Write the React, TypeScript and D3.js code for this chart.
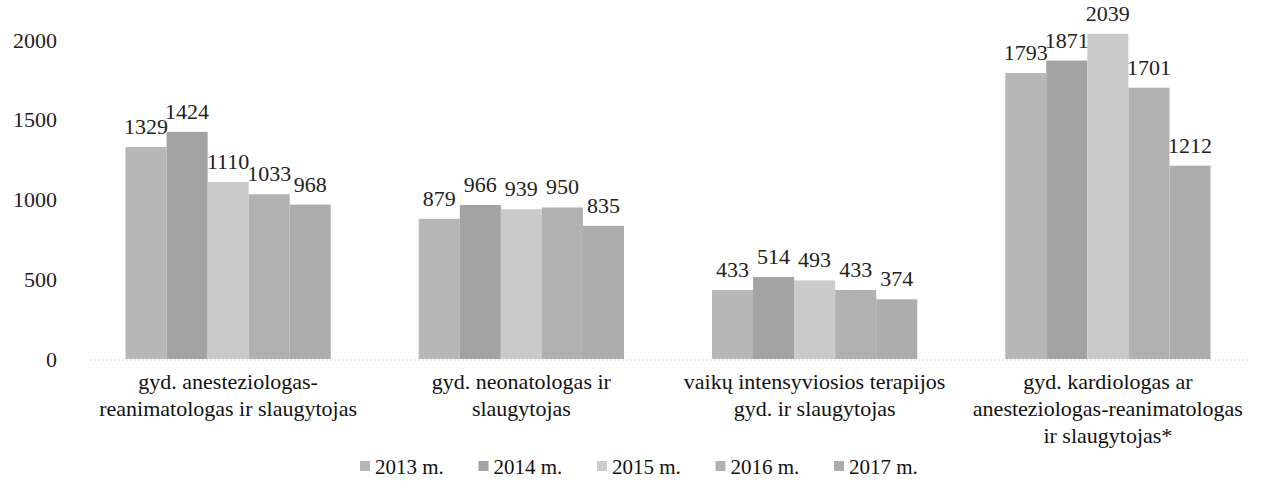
import React from "react";
import * as d3 from "d3";

const categories: string[][] = [
  ["gyd. anesteziologas-", "reanimatologas ir slaugytojas"],
  ["gyd. neonatologas ir", "slaugytojas"],
  ["vaikų intensyviosios terapijos", "gyd. ir slaugytojas"],
  ["gyd. kardiologas ar", "anesteziologas-reanimatologas", "ir slaugytojas*"],
];
const seriesNames = ["2013 m.", "2014 m.", "2015 m.", "2016 m.", "2017 m."];
const v2013 = [1329, 879, 433, 1793];
const v2014 = [1424, 966, 514, 1871];
const v2015 = [1110, 939, 493, 2039];
const v2016 = [1033, 950, 433, 1701];
const v2017 = [968, 835, 374, 1212];
const series = [v2013, v2014, v2015, v2016, v2017];
const yTicks = [0, 500, 1000, 1500, 2000];
const colors = ["#b7b7b7", "#a3a3a3", "#cbcbcb", "#b1b1b1", "#acacac"];

const W = 1261;
const H = 490;
const FONT = "'Liberation Serif', 'Times New Roman', serif";

export default function App() {
  const x0 = d3
    .scaleBand<number>()
    .domain(categories.map((_, i) => i))
    .range([81.5, 1254.5])
    .paddingInner(0.3)
    .paddingOuter(0.15);
  const x1 = d3
    .scaleBand<number>()
    .domain(seriesNames.map((_, i) => i))
    .range([0, x0.bandwidth()])
    .padding(0);
  const y = d3.scaleLinear().domain([0, 2000]).range([359, 40]);

  return (
    <svg
      width={W}
      height={H}
      style={{ position: "absolute", left: 0, top: 0, background: "#fff", fontFamily: FONT }}
    >
      <rect width={W} height={H} fill="#fff" />
      {yTicks.map((t) => (
        <text
          key={t}
          x={57}
          y={y(t)}
          dy="0.35em"
          textAnchor="end"
          fontSize={22}
          fill="#222"
        >
          {t}
        </text>
      ))}
      <line
        x1={90}
        x2={1250}
        y1={y(0) + 1}
        y2={y(0) + 1}
        stroke="#d8d8d8"
        strokeWidth={1}
        strokeDasharray="2 2"
      />
      {categories.map((_, ci) => (
        <g key={ci} transform={`translate(${x0(ci)},0)`}>
          {series.map((s, si) => (
            <rect
              key={si}
              x={x1(si)}
              y={y(s[ci])}
              width={x1.bandwidth()}
              height={y(0) - y(s[ci])}
              fill={colors[si]}
            />
          ))}
          {series.map((s, si) => (
            <text
              key={"l" + si}
              x={(x1(si) as number) + x1.bandwidth() / 2}
              y={y(s[ci]) - 13}
              textAnchor="middle"
              fontSize={22}
              fill="#222"
            >
              {s[ci]}
            </text>
          ))}
        </g>
      ))}
      {categories.map((lines, ci) => (
        <text
          key={"c" + ci}
          x={(x0(ci) as number) + x0.bandwidth() / 2}
          textAnchor="middle"
          fontSize={22}
          fill="#111"
        >
          {lines.map((ln, li) => (
            <tspan key={li} x={(x0(ci) as number) + x0.bandwidth() / 2} y={389 + li * 27}>
              {ln}
            </tspan>
          ))}
        </text>
      ))}
      {seriesNames.map((n, i) => {
        const lx = 360 + i * 118.5;
        return (
          <g key={n}>
            <rect x={lx} y={461} width={10} height={10} fill={colors[i]} />
            <text x={lx + 15} y={474} fontSize={21} fill="#111">
              {n}
            </text>
          </g>
        );
      })}
    </svg>
  );
}
